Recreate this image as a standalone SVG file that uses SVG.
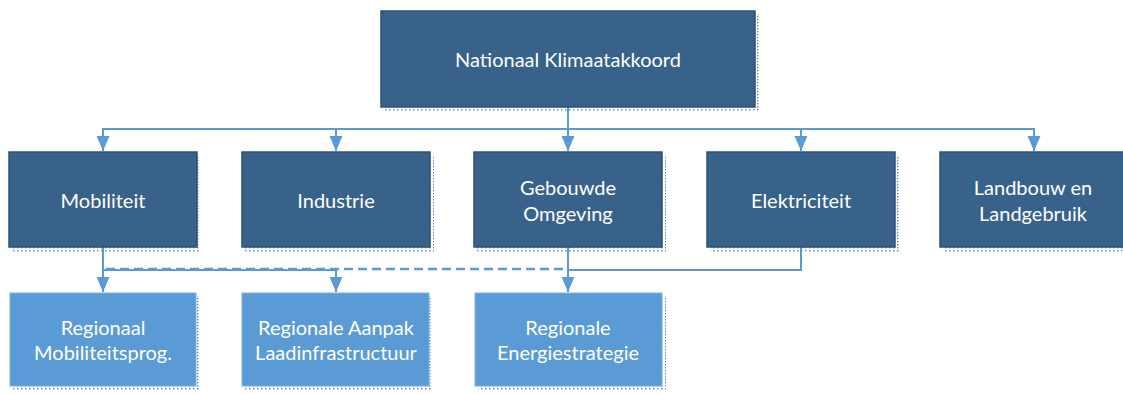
<svg xmlns="http://www.w3.org/2000/svg" width="1123" height="394" viewBox="0 0 1123 394">
  <style>
    .dark { fill: #38628A; stroke: #2D5175; stroke-width: 1.5; }
    .light { fill: #5B9BD5; stroke: #7FB2E0; stroke-width: 1; }
    .shadow { fill: url(#dots); }
    .label { font-family: Lato, "Liberation Sans", sans-serif; font-size: 20px; fill: #FFFFFF; text-anchor: middle; dominant-baseline: central; }
    .link { fill: none; stroke: #5B9BD5; stroke-width: 2; }
    .arrow { marker-end: url(#head); }
    .dashed { stroke-dasharray: 9 5; stroke-width: 2.5; }
  </style>
  <defs>
    <pattern id="dots" width="4" height="3" patternUnits="userSpaceOnUse">
      <rect x="1" y="1" width="1.4" height="1.4" fill="#5F86B4"/>
    </pattern>
    <marker id="head" markerUnits="userSpaceOnUse" markerWidth="16" markerHeight="14" refX="15" refY="6.5" orient="auto" viewBox="0 0 16 13">
      <path d="M0,0 L15,6.5 L0,13 Z" fill="#5B9BD5"/>
    </marker>
  </defs>

  <rect width="1123" height="394" fill="#FFFFFF"/>

  <!-- connectors -->
  <g id="connectors">
    <path class="link arrow" d="M568,107 V129 H103 V151"/>
    <path class="link arrow" d="M568,129 H336 V151"/>
    <path class="link arrow" d="M568,107 V151"/>
    <path class="link arrow" d="M568,129 H801 V151"/>
    <path class="link arrow" d="M568,129 H1034 V151"/>

    <path class="link arrow" d="M103,247 V292"/>
    <path class="link arrow" d="M103,270 H336 V292"/>
    <path class="link dashed" d="M106,269 H566"/>
    <path class="link arrow" d="M568,247 V292"/>
    <path class="link" d="M801,247 V270 H568"/>
  </g>

  <!-- top level -->
  <g id="node-nationaal">
    <rect class="shadow" x="384" y="14" width="375" height="98"/>
    <rect class="dark" x="381" y="11" width="374" height="96"/>
    <text class="label" x="568" y="59">Nationaal Klimaatakkoord</text>
  </g>

  <!-- sectors -->
  <g id="node-mobiliteit">
    <rect class="shadow" x="12" y="155" width="189" height="97"/>
    <rect class="dark" x="9" y="152" width="188" height="95"/>
    <text class="label" x="103" y="199.5">Mobiliteit</text>
  </g>
  <g id="node-industrie">
    <rect class="shadow" x="245" y="155" width="189" height="97"/>
    <rect class="dark" x="242" y="152" width="188" height="95"/>
    <text class="label" x="336" y="199.5">Industrie</text>
  </g>
  <g id="node-gebouwde-omgeving">
    <rect class="shadow" x="477" y="155" width="189" height="97"/>
    <rect class="dark" x="474" y="152" width="188" height="95"/>
    <text class="label" x="568" y="187">Gebouwde</text>
    <text class="label" x="568" y="213">Omgeving</text>
  </g>
  <g id="node-elektriciteit">
    <rect class="shadow" x="710" y="155" width="189" height="97"/>
    <rect class="dark" x="707" y="152" width="188" height="95"/>
    <text class="label" x="801" y="199.5">Elektriciteit</text>
  </g>
  <g id="node-landbouw">
    <rect class="shadow" x="943" y="155" width="189" height="97"/>
    <rect class="dark" x="940" y="152" width="188" height="95"/>
    <text class="label" x="1033" y="187">Landbouw en</text>
    <text class="label" x="1033" y="213">Landgebruik</text>
  </g>

  <!-- regional programmes -->
  <g id="node-regionaal-mobiliteit">
    <rect class="shadow" x="13" y="296" width="187" height="95"/>
    <rect class="light" x="10" y="293" width="186" height="93"/>
    <text class="label" x="103" y="327">Regionaal</text>
    <text class="label" x="103" y="352">Mobiliteitsprog.</text>
  </g>
  <g id="node-laadinfrastructuur">
    <rect class="shadow" x="245" y="296" width="188" height="95"/>
    <rect class="light" x="242" y="293" width="187" height="93"/>
    <text class="label" x="336" y="327">Regionale Aanpak</text>
    <text class="label" x="336" y="352">Laadinfrastructuur</text>
  </g>
  <g id="node-energiestrategie">
    <rect class="shadow" x="478" y="296" width="188" height="95"/>
    <rect class="light" x="475" y="293" width="187" height="93"/>
    <text class="label" x="568" y="327">Regionale</text>
    <text class="label" x="568" y="352">Energiestrategie</text>
  </g>
</svg>
